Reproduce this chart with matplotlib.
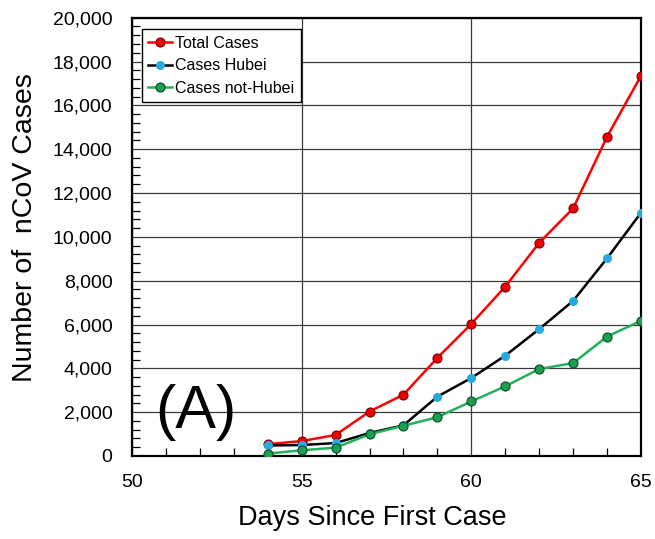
import matplotlib
matplotlib.use("Agg")
import matplotlib.pyplot as plt
from matplotlib.ticker import MultipleLocator, FuncFormatter

# Cumulative nCoV case counts by day since the first case
days = [54, 55, 56, 57, 58, 59, 60, 61, 62, 63, 64, 65]
total_cases = [540, 680, 960, 2030, 2800, 4480, 6030, 7730, 9730, 11300, 14570, 17350]
hubei_cases = [480, 500, 590, 1050, 1400, 2710, 3560, 4580, 5790, 7080, 9020, 11100]
non_hubei_cases = [110, 260, 380, 990, 1380, 1770, 2490, 3180, 3970, 4240, 5450, 6170]

series_labels = ["Total Cases", "Cases Hubei", "Cases not-Hubei"]

plt.rcParams["font.family"] = ["Liberation Sans", "DejaVu Sans"]

fig = plt.figure(figsize=(6.55, 5.39), dpi=100)
ax = fig.add_axes([132 / 655, 1 - 456 / 539, 509 / 655, 438.3 / 539])

ax.plot(days, total_cases, color="#FF0000", lw=1.8, marker="o", ms=6.5,
        mfc="#EE0000", mec="#7A0000", mew=0.8, label=series_labels[0], zorder=3)
ax.plot(days, hubei_cases, color="black", lw=1.8, marker="o", ms=6.5,
        mfc="#2AA8E0", mec="#2AA8E0", mew=0.0, label=series_labels[1], zorder=4)
ax.plot(days, non_hubei_cases, color="#22B05A", lw=1.8, marker="o", ms=6.5,
        mfc="#1E9E50", mec="#0B4A22", mew=0.8, label=series_labels[2], zorder=5)

ax.set_xlim(50, 65)
ax.set_ylim(0, 20000)
ax.xaxis.set_major_locator(MultipleLocator(5))
ax.xaxis.set_minor_locator(MultipleLocator(1))
ax.yaxis.set_major_locator(MultipleLocator(2000))
ax.yaxis.set_minor_locator(MultipleLocator(400))
ax.yaxis.set_major_formatter(FuncFormatter(lambda v, p: f"{int(v):,}"))

ax.grid(True, which="major", color="#3a3a3a", lw=0.9)
ax.set_axisbelow(True)
ax.tick_params(which="both", direction="in", labelsize=14, colors="black")
ax.tick_params(which="major", length=0)
ax.tick_params(axis="y", which="major", pad=14)
ax.tick_params(axis="x", which="major", pad=13)
ax.tick_params(which="minor", length=6, width=0.9)
for s in ax.spines.values():
    s.set_linewidth(1.6)
    s.set_color("black")

ax.set_xlabel("Days Since First Case", fontsize=19.5)
ax.xaxis.set_label_coords(0.473, -0.112)
ax.set_ylabel("Number of  nCoV Cases", fontsize=20.5)
ax.yaxis.set_label_coords(-0.185, 0.521)

ax.text(0.045, 0.10, "(A)", transform=ax.transAxes, fontsize=44,
        ha="left", va="center")

leg = ax.legend(loc="upper left", bbox_to_anchor=(0.0192, 0.9735), borderaxespad=0,
                fontsize=11.5, frameon=True, fancybox=False, framealpha=1,
                edgecolor="black", handlelength=1.5, handletextpad=0.2,
                labelspacing=0.47, borderpad=0.4)
leg.get_frame().set_linewidth(1.0)

fig.savefig("out.png", dpi=100, facecolor="white")
